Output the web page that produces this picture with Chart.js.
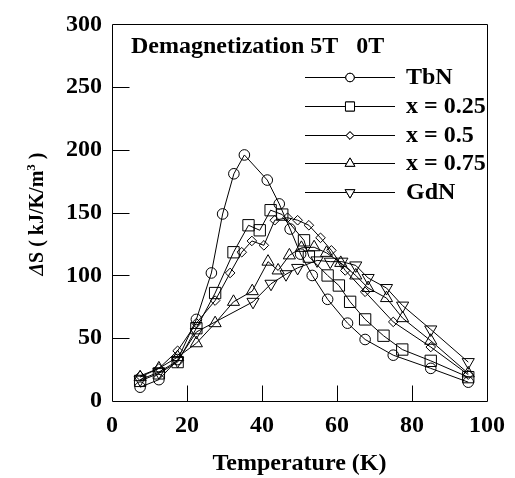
<!DOCTYPE html>
<html><head><meta charset="utf-8">
<script src="https://cdn.jsdelivr.net/npm/chart.js@4/dist/chart.umd.min.js"></script>
<style>html,body{margin:0;padding:0;background:#fff;overflow:hidden}</style>
</head><body>
<canvas id="c" width="515" height="478" style="display:block;width:515px;height:478px"></canvas>
<script>
const seriesNames = ['TbN', 'x = 0.25', 'x = 0.5', 'x = 0.75', 'GdN'];
const tbnT = [7.5,12.5,17.5,22.5,26.5,29.5,32.5,35.3,41.4,44.6,47.5,50.3,53.4,57.5,62.8,67.5,75,85,95];
const tbnS = [11,17,33,65,102,149,181,196,176,157,137,117,100,81,62,49,36.5,26,15];
const x25T = [7.5,12.5,17.5,22.5,27.5,32.4,36.4,39.4,42.3,45.4,51.2,52.5,57.5,60.5,63.5,67.5,72.4,77.4,85,95];
const x25S = [16,22,31,58,86,118.5,140,136,152,148.5,128,115,100,92,79,65,52,41,32,19];
const x50T = [7.5,12.5,17.5,22.5,27.5,31.5,34.6,37.3,40.5,43.4,46.8,49.5,52.5,55.6,58.5,62.2,67.5,75,85,95];
const x50S = [20,26,40,62,80,102,118.5,127.5,124,144,146,144,140,130,120,104,87,63,43,21];
const x75T = [7.5,12.5,17.5,22.5,27.5,32.4,37.4,41.6,44.3,47.3,50.5,53.9,57.2,61,65,68.3,73.2,77.5,85,95];
const x75S = [19,26,35,46,62,79,87.5,111,104,116,122,122.5,118,110,100,90,82,66,48,22];
const gdnT = [7.5,12.5,17.5,22.5,37.6,42.4,46.4,49.5,54.7,58.2,61.3,65,68.3,73.2,77.5,85,95];
const gdnS = [17,23,32,55,79,93.4,101,106,112,111,111,108,98,90,76,57,31];
const xTicks = [0,20,40,60,80,100];
const yTicks = [0,50,100,150,200,250,300];
const chartTitle = 'Demagnetization 5T   0T';
const xTitle = 'Temperature (K)';

const SERIF = '"Liberation Serif","Times New Roman",serif';
const styles = [
  {pointStyle:'circle', radius:5.3, rot:0},
  {pointStyle:'rect', radius:8, rot:0},
  {pointStyle:'rectRot', radius:4.8, rot:0},
  {pointStyle:'triangle', radius:7, rot:0},
  {pointStyle:'triangle', radius:7, rot:180}
];
const Ts = [tbnT, x25T, x50T, x75T, gdnT];
const Ss = [tbnS, x25S, x50S, x75S, gdnS];

const datasets = seriesNames.map((name, i) => ({
  label: name,
  data: Ts[i].map((t, k) => ({x: t, y: Ss[i][k]})),
  showLine: true,
  borderColor: '#000',
  borderWidth: 1,
  pointStyle: styles[i].pointStyle,
  pointRadius: styles[i].radius,
  pointRotation: styles[i].rot,
  pointBorderColor: '#000',
  pointBackgroundColor: 'rgba(0,0,0,0)',
  pointBorderWidth: 1,
  tension: 0
}));

const deco = {
  id: 'deco',
  afterDraw(chart) {
    const ctx = chart.ctx, a = chart.chartArea, xs = chart.scales.x, ys = chart.scales.y;
    ctx.save();
    ctx.strokeStyle = '#000';
    ctx.lineWidth = 1;
    const L = Math.round(a.left) + 0.5, R = Math.round(a.right) + 0.5;
    const T = Math.round(a.top) + 0.5, B = Math.round(a.bottom) + 0.5;
    ctx.beginPath();
    ctx.rect(L, T, R - L, B - T);
    ctx.stroke();
    // inward ticks
    ctx.beginPath();
    yTicks.slice(1, -1).forEach(v => {
      const p = Math.round(ys.getPixelForValue(v)) + 0.5;
      ctx.moveTo(L, p); ctx.lineTo(L + 17, p);
    });
    xTicks.slice(1, -1).forEach(v => {
      const p = Math.round(xs.getPixelForValue(v)) + 0.5;
      ctx.moveTo(p, B); ctx.lineTo(p, B - 16);
    });
    ctx.stroke();
    // in-plot title
    ctx.fillStyle = '#000';
    ctx.font = 'bold 24px ' + SERIF;
    ctx.textAlign = 'left';
    ctx.textBaseline = 'alphabetic';
    ctx.fillText(chartTitle, 131, 53);
    // legend
    ctx.textBaseline = 'middle';
    chart.data.datasets.forEach((ds, i) => {
      const yy = 77 + i * 28.75;
      ctx.beginPath();
      ctx.moveTo(305, Math.round(yy) + 0.5); ctx.lineTo(395, Math.round(yy) + 0.5);
      ctx.stroke();
      Chart.helpers.drawPoint(ctx, {
        pointStyle: styles[i].pointStyle,
        radius: styles[i].radius * 0.8,
        rotation: styles[i].rot,
        borderWidth: 1
      }, 350, Math.round(yy) + 0.5);
      ctx.fillStyle = '#fff';
      ctx.fill();
      ctx.stroke();
      ctx.fillStyle = '#000';
      ctx.fillText(ds.label, 406, yy + 1);
    });
    // y title (rotated)
    ctx.save();
    ctx.translate(43, 214);
    ctx.rotate(-Math.PI / 2);
    ctx.textBaseline = 'alphabetic';
    const parts = [
      {t: 'Δ', f: 'italic bold 20px ' + SERIF, dy: 0},
      {t: 'S ( kJ/K/m', f: 'bold 20px ' + SERIF, dy: 0},
      {t: '3', f: 'bold 13px ' + SERIF, dy: -8},
      {t: ' )', f: 'bold 20px ' + SERIF, dy: 0}
    ];
    let total = 0;
    parts.forEach(p => { ctx.font = p.f; p.w = ctx.measureText(p.t).width; total += p.w; });
    let cx = -total / 2;
    parts.forEach(p => { ctx.font = p.f; ctx.fillText(p.t, cx, p.dy); cx += p.w; });
    ctx.restore();
    ctx.restore();
  }
};

new Chart(document.getElementById('c'), {
  type: 'scatter',
  data: { datasets },
  options: {
    responsive: false,
    animation: false,
    devicePixelRatio: 1,
    layout: { padding: { top: 23, right: 23, left: 0, bottom: 0 } },
    plugins: { legend: { display: false }, tooltip: { enabled: false } },
    scales: {
      x: {
        type: 'linear', min: 0, max: 100,
        afterFit(s) { s.height = 77; },
        afterBuildTicks(s) { s.ticks = xTicks.map(v => ({value: v})); },
        grid: { display: false, drawTicks: false },
        border: { display: false },
        ticks: { color: '#000', font: { family: SERIF, size: 24, weight: 'bold' }, padding: 10, maxRotation: 0, autoSkip: false },
        title: { display: true, text: xTitle, color: '#000', font: { family: SERIF, size: 24, weight: 'bold' }, padding: { top: 10, bottom: 0 } }
      },
      y: {
        type: 'linear', min: 0, max: 300,
        afterFit(s) { s.width = 112; },
        afterBuildTicks(s) { s.ticks = yTicks.map(v => ({value: v})); },
        grid: { display: false, drawTicks: false },
        border: { display: false },
        ticks: { color: '#000', font: { family: SERIF, size: 24, weight: 'bold' }, padding: 10, autoSkip: false }
      }
    }
  },
  plugins: [deco]
});
</script>
</body></html>
